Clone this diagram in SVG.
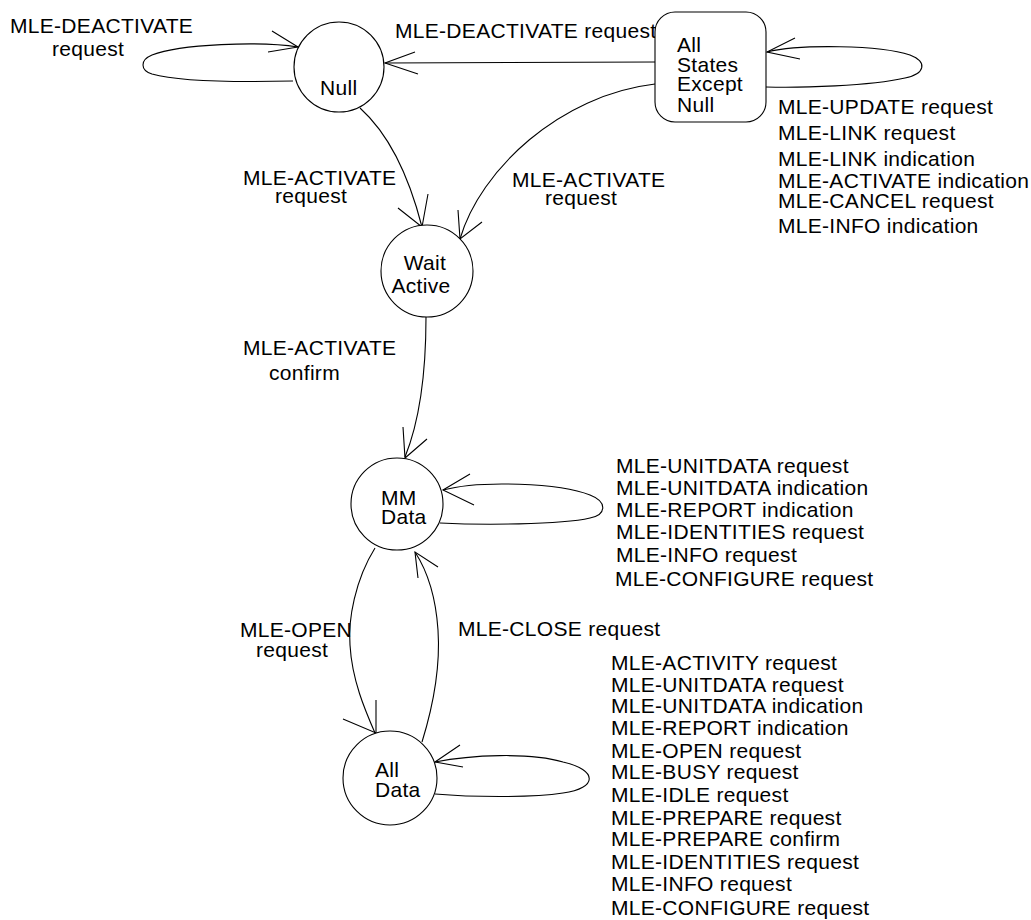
<svg xmlns="http://www.w3.org/2000/svg" width="1031" height="920" viewBox="0 0 1031 920">
<style>
text{font-family:"Liberation Sans",Arial,sans-serif;font-size:21px;letter-spacing:0.3px;fill:#000}
.n{fill:#fff;stroke:#000;stroke-width:1.1}
.c{fill:none;stroke:#000;stroke-width:1.1}
</style>
<rect width="1031" height="920" fill="#fff"/>
<g id="connectors">
  <path class="c" d="M298,47 C260,41 180,44 152,55 C140,60 140,70 152,74 C180,82 250,82 293,81"/>
  <path class="c" d="M272,31 L298,47 L268,52"/>
  <path class="c" d="M655,62 L385,63"/>
  <path class="c" d="M415,52 L385,63 L418,74"/>
  <path class="c" d="M767,52 C800,44 880,45 910,55 C928,62 925,74 905,78 C870,86 800,88 766,87"/>
  <path class="c" d="M795,38 L767,52 L800,59"/>
  <path class="c" d="M360,108 C390,135 410,180 422,227"/>
  <path class="c" d="M398,208 L422,227 L428,194"/>
  <path class="c" d="M655,84 C560,95 480,170 460,239"/>
  <path class="c" d="M458,210 L460,239 L482,222"/>
  <path class="c" d="M426,317 C426,370 420,420 405,457"/>
  <path class="c" d="M403,427 L405,458 L427,439"/>
  <path class="c" d="M443,490 C480,480 560,483 590,495 C608,502 606,515 590,518 C560,525 480,525 440,523"/>
  <path class="c" d="M470,474 L443,490 L474,505"/>
  <path class="c" d="M375,548 C355,580 348,620 350,645 C352,680 365,710 375,733"/>
  <path class="c" d="M376,700 L376,733 L343,719"/>
  <path class="c" d="M422,742 C435,700 440,660 438,630 C436,600 428,572 415,552"/>
  <path class="c" d="M418,578 L415,552 L438,567"/>
  <path class="c" d="M435,762 C470,755 530,752 563,762 C598,770 598,788 563,793 C530,798 470,797 435,794"/>
  <path class="c" d="M460,745 L435,762 L463,767"/>
</g>
<g id="labels">
  <text x="10" y="33">MLE-DEACTIVATE</text>
  <text x="52" y="56">request</text>
  <text x="395" y="38">MLE-DEACTIVATE request</text>
  <text x="778" y="114">MLE-UPDATE request</text>
  <text x="778" y="140">MLE-LINK request</text>
  <text x="778" y="166">MLE-LINK indication</text>
  <text x="778" y="188">MLE-ACTIVATE indication</text>
  <text x="778" y="208">MLE-CANCEL request</text>
  <text x="778" y="233">MLE-INFO indication</text>
  <text x="243" y="185">MLE-ACTIVATE</text>
  <text x="275" y="203">request</text>
  <text x="512" y="187">MLE-ACTIVATE</text>
  <text x="545" y="205">request</text>
  <text x="243" y="355">MLE-ACTIVATE</text>
  <text x="269" y="380">confirm</text>
  <text x="616" y="473">MLE-UNITDATA request</text>
  <text x="616" y="495">MLE-UNITDATA indication</text>
  <text x="616" y="517">MLE-REPORT indication</text>
  <text x="616" y="539">MLE-IDENTITIES request</text>
  <text x="616" y="562">MLE-INFO request</text>
  <text x="615" y="586">MLE-CONFIGURE request</text>
  <text x="240" y="637">MLE-OPEN</text>
  <text x="256" y="657">request</text>
  <text x="458" y="636">MLE-CLOSE request</text>
  <text x="611" y="670">MLE-ACTIVITY request</text>
  <text x="611" y="692">MLE-UNITDATA request</text>
  <text x="611" y="713">MLE-UNITDATA indication</text>
  <text x="611" y="735">MLE-REPORT indication</text>
  <text x="611" y="758">MLE-OPEN request</text>
  <text x="611" y="779">MLE-BUSY request</text>
  <text x="611" y="802">MLE-IDLE request</text>
  <text x="611" y="825">MLE-PREPARE request</text>
  <text x="611" y="846">MLE-PREPARE confirm</text>
  <text x="611" y="869">MLE-IDENTITIES request</text>
  <text x="611" y="891">MLE-INFO request</text>
  <text x="611" y="915">MLE-CONFIGURE request</text>
</g>
<g id="node-null">
  <circle class="n" cx="339" cy="67" r="45"/>
  <text x="320" y="95">Null</text>
</g>
<g id="node-all-states">
  <rect class="n" x="655" y="12" width="111" height="110" rx="20"/>
  <text x="677" y="52">All</text>
  <text x="677" y="72">States</text>
  <text x="677" y="91">Except</text>
  <text x="677" y="112">Null</text>
</g>
<g id="node-wait-active">
  <circle class="n" cx="427" cy="271" r="46"/>
  <text x="425" y="270" text-anchor="middle">Wait</text>
  <text x="421" y="293" text-anchor="middle">Active</text>
</g>
<g id="node-mm-data">
  <circle class="n" cx="397" cy="504" r="46"/>
  <text x="381" y="505">MM</text>
  <text x="381" y="524">Data</text>
</g>
<g id="node-all-data">
  <circle class="n" cx="390" cy="778" r="47"/>
  <text x="375" y="777">All</text>
  <text x="375" y="797">Data</text>
</g>
</svg>
